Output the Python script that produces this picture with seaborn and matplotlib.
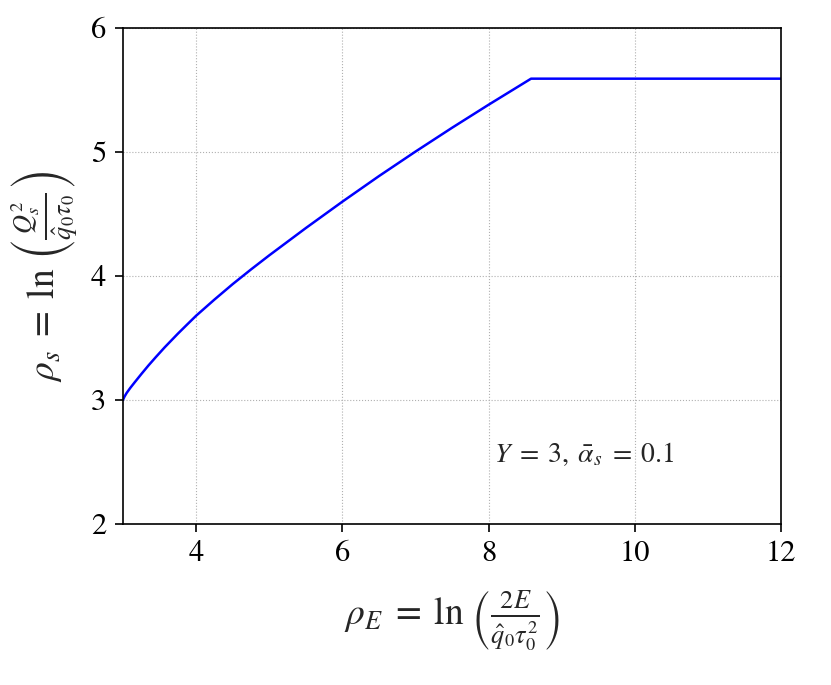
import matplotlib
matplotlib.use("Agg")
import matplotlib.pyplot as plt
import seaborn as sns
import pandas as pd

# curve (rho_E, rho_s)
rho_E = [3.0, 3.005, 3.02, 3.05, 3.1, 3.16, 3.25, 3.35, 3.45, 3.57, 3.75, 3.87, 4.0,
         4.25, 4.5, 4.75, 5.0, 5.5, 6.0, 6.5, 7.0, 7.5, 8.0, 8.58, 12.0]
rho_s = [3.0, 3.008, 3.027, 3.057, 3.098, 3.143, 3.209, 3.28, 3.347, 3.425, 3.535, 3.605, 3.68,
         3.81, 3.935, 4.053, 4.167, 4.387, 4.60, 4.806, 5.004, 5.196, 5.382, 5.592, 5.592]
xticks = [4, 6, 8, 10, 12]
yticks = [2, 3, 4, 5, 6]

sns.set_style("ticks")
plt.rcParams["font.family"] = ["STIXGeneral", "DejaVu Serif"]
plt.rcParams["mathtext.fontset"] = "stix"

df = pd.DataFrame({"rho_E": rho_E, "rho_s": rho_s})

fig = plt.figure(figsize=(8.31, 6.85), dpi=100)
ax = fig.add_axes([0.148, 0.235, 0.792, 0.724])
sns.lineplot(data=df, x="rho_E", y="rho_s", ax=ax, color="#0000ff", lw=1.8)

ax.set_xlim(3, 12)
ax.set_ylim(2, 6)
ax.set_xticks(xticks)
ax.set_yticks(yticks)
ax.grid(True, ls=":", color="#b0b0b0", lw=0.8)
for s in ax.spines.values():
    s.set_color("black")
    s.set_linewidth(1.2)
ax.tick_params(direction="out", length=6, width=1.2, labelsize=22, colors="black", pad=6)

ax.set_xlabel(r"$\rho_E\;=\;\ln\,\left(\frac{2E}{\hat{q}_0\tau_0^2}\right)$", fontsize=27, labelpad=14)
ax.set_ylabel(r"$\rho_s\;=\;\ln\,\left(\frac{Q_s^2}{\hat{q}_0\tau_0}\right)$", fontsize=27, labelpad=8)

ax.text(9.3, 2.56, r"$Y\;=\;3,\;\bar{\alpha}_s\;=\;0.1$", fontsize=20, ha="center", va="center")

fig.savefig("out.png", dpi=100)
